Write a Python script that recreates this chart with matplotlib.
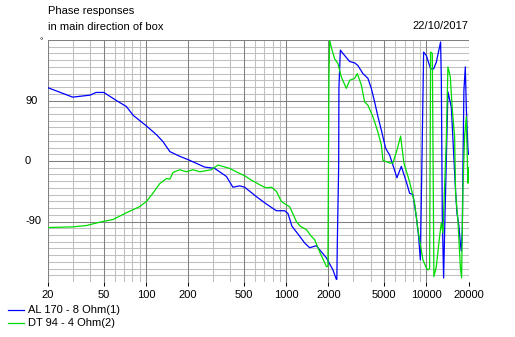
import matplotlib
matplotlib.use("Agg")
import matplotlib.pyplot as plt
from matplotlib.lines import Line2D
from matplotlib.ticker import FixedLocator, NullFormatter

plt.rcParams.update({
    "font.family": ["Liberation Sans", "DejaVu Sans"],
    "font.size": 8,
})

# ---- phase data (Hz, degrees) ----
al170_freq = [20, 30, 40, 44, 50, 61.5, 72.5, 81, 101, 119, 132, 148, 174, 200,
              262, 309, 375, 417, 466, 506, 613, 723, 851, 976, 1030, 1100,
              1250, 1356, 1471, 1642, 1734, 1936, 2157, 2281, 2300, 2318,
              2370, 2380, 2436, 2542, 2838, 3080, 3252, 3530, 3832, 4052,
              4278, 4516, 4776, 5126, 5472, 5778, 6172, 6632, 7200, 7602,
              8026, 8486, 8812, 9066, 9300, 9568, 10000, 10732, 11274,
              11786, 12648, 12800, 13000, 13288, 13506, 14262, 15082, 16106,
              16536, 17086, 17484, 17772, 18068, 18240, 18546, 18978, 19290,
              19800, 20000]
al170_phase = [109, 95, 98, 102, 102, 90, 81, 68, 52, 39, 29, 14, 7, 2,
               -9, -11, -23, -39, -37, -39, -53, -64, -74, -74, -78, -97,
               -112, -122, -129, -126, -132, -144, -162, -176, -176, -122,
               -8, 108, 165, 160, 148, 146, 142, 130, 123, 108,
               88, 66, 46, 19, 9, -6, -25, -8, -31, -48,
               -50, -83, -112, -147, -5, 162, 157, 137, 137,
               147, 177, 120, -80, -174, -107, 103, 80, -38,
               -77, -97, -122, -134, -102, -13, 105, 140, 80,
               19, 10]

dt94_freq = [20, 30, 37.6, 46.8, 58.2, 72.5, 90, 101, 112, 125, 140, 148, 156,
             174, 194, 216, 242, 293, 326, 395, 450, 506, 560, 670, 723, 784,
             851, 924, 1000, 1060, 1183, 1260, 1394, 1512, 1597, 1734, 1936,
             1987, 2020, 2043, 2100, 2218, 2342, 2476, 2688, 2838, 3080,
             3220, 3440, 3630, 3832, 4160, 4516, 4776, 4904, 5472, 5778,
             6172, 6556, 6922, 7602, 8254, 8712, 9460, 10000, 10268, 10558,
             10732, 11040, 11330, 11786, 12444, 12794, 13134, 13888, 14262,
             14836, 15332, 15920, 16180, 16806, 17484, 17856, 18240, 18758,
             19290, 19800, 20000]
dt94_phase = [-99, -98, -96, -91, -87, -77, -68, -60, -48, -34, -26, -27, -17,
              -13, -16, -13, -16, -13, -6, -11, -17, -22, -28, -37, -40, -39,
              -45, -60, -65, -68, -90, -97, -102, -112, -117, -135, -157,
              -157, 123, 180, 169, 152, 145, 125, 108, 120, 123,
              130, 113, 88, 83, 66, 43, 24, 1, -3, -3,
              16, 37, -3, -31, -63, -102, -147, -159, -162, -160,
              162, 160, -172, -157, -112, -92, -107, 30, 140,
              125, 76, 36, -48, -88, -157, -174, -43, 36,
              66, -33, -10]

x_labels = [20, 50, 100, 200, 500, 1000, 2000, 5000, 10000, 20000]
x_minor = [30, 40, 60, 70, 80, 90, 300, 400, 600, 700, 800, 900,
           3000, 4000, 6000, 7000, 8000, 9000]
y_labels = [90, 0, -90]

legend_names = ["AL 170 - 8 Ohm(1)", "DT 94 - 4 Ohm(2)"]
BLUE = "#0000ff"
GREEN = "#00dd00"

W, H = 515, 337
fig = plt.figure(figsize=(W / 100, H / 100), dpi=100)
ax = fig.add_axes([48 / W, (H - 282) / H, 420.5 / W, 242 / H])

ax.set_xscale("log")
ax.set_xlim(20, 20000)
ax.set_ylim(-180, 180)

# grid: dark at labelled decades / 90 deg, light everywhere else
for f in x_minor:
    ax.axvline(f, color="#c0c0c0", lw=0.75, zorder=1)
for f in x_labels:
    ax.axvline(f, color="#808080", lw=0.75, zorder=1.1)
for p in range(-170, 181, 10):
    if p % 90 == 0:
        ax.axhline(p, color="#808080", lw=0.75, zorder=1.1)
    else:
        ax.axhline(p, color="#c0c0c0", lw=0.75, zorder=1)

ax.plot(al170_freq, al170_phase, color=BLUE, lw=0.9, zorder=3)
ax.plot(dt94_freq, dt94_phase, color=GREEN, lw=0.9, zorder=3)

ax.xaxis.set_major_locator(FixedLocator(x_labels))
ax.xaxis.set_minor_locator(FixedLocator(x_minor))
ax.xaxis.set_minor_formatter(NullFormatter())
ax.set_xticklabels([str(v) for v in x_labels])
ax.tick_params(axis="x", which="major", length=3, width=0.75, color="black",
               direction="out", pad=3, labelsize=8)
ax.tick_params(axis="x", which="minor", length=0)
ax.set_yticks([])

for s in ax.spines.values():
    s.set_visible(False)

# y labels, left aligned beside the plot
for v in y_labels:
    ax.text(-23 / 420.5, v, str(v), transform=ax.get_yaxis_transform(),
            ha="left", va="center", fontsize=8)
ax.text(-7 / 420.5, 178, "°", transform=ax.get_yaxis_transform(),
        ha="center", va="center", fontsize=6)

fig.text(48 / W, 1 - 6 / H, "Phase responses", ha="left", va="top")
fig.text(48 / W, 1 - 22 / H, "in main direction of box", ha="left", va="top")
fig.text(468 / W, 1 - 21 / H, "22/10/2017", ha="right", va="top")

# legend drawn below the axes
for i, (name, col) in enumerate(zip(legend_names, [BLUE, GREEN])):
    y = 1 - (310 + 12.7 * i) / H
    fig.add_artist(Line2D([8 / W, 24 / W], [y, y], color=col, lw=0.9))
    fig.text(28 / W, y, name, ha="left", va="center")

fig.savefig("out.png", dpi=100)
